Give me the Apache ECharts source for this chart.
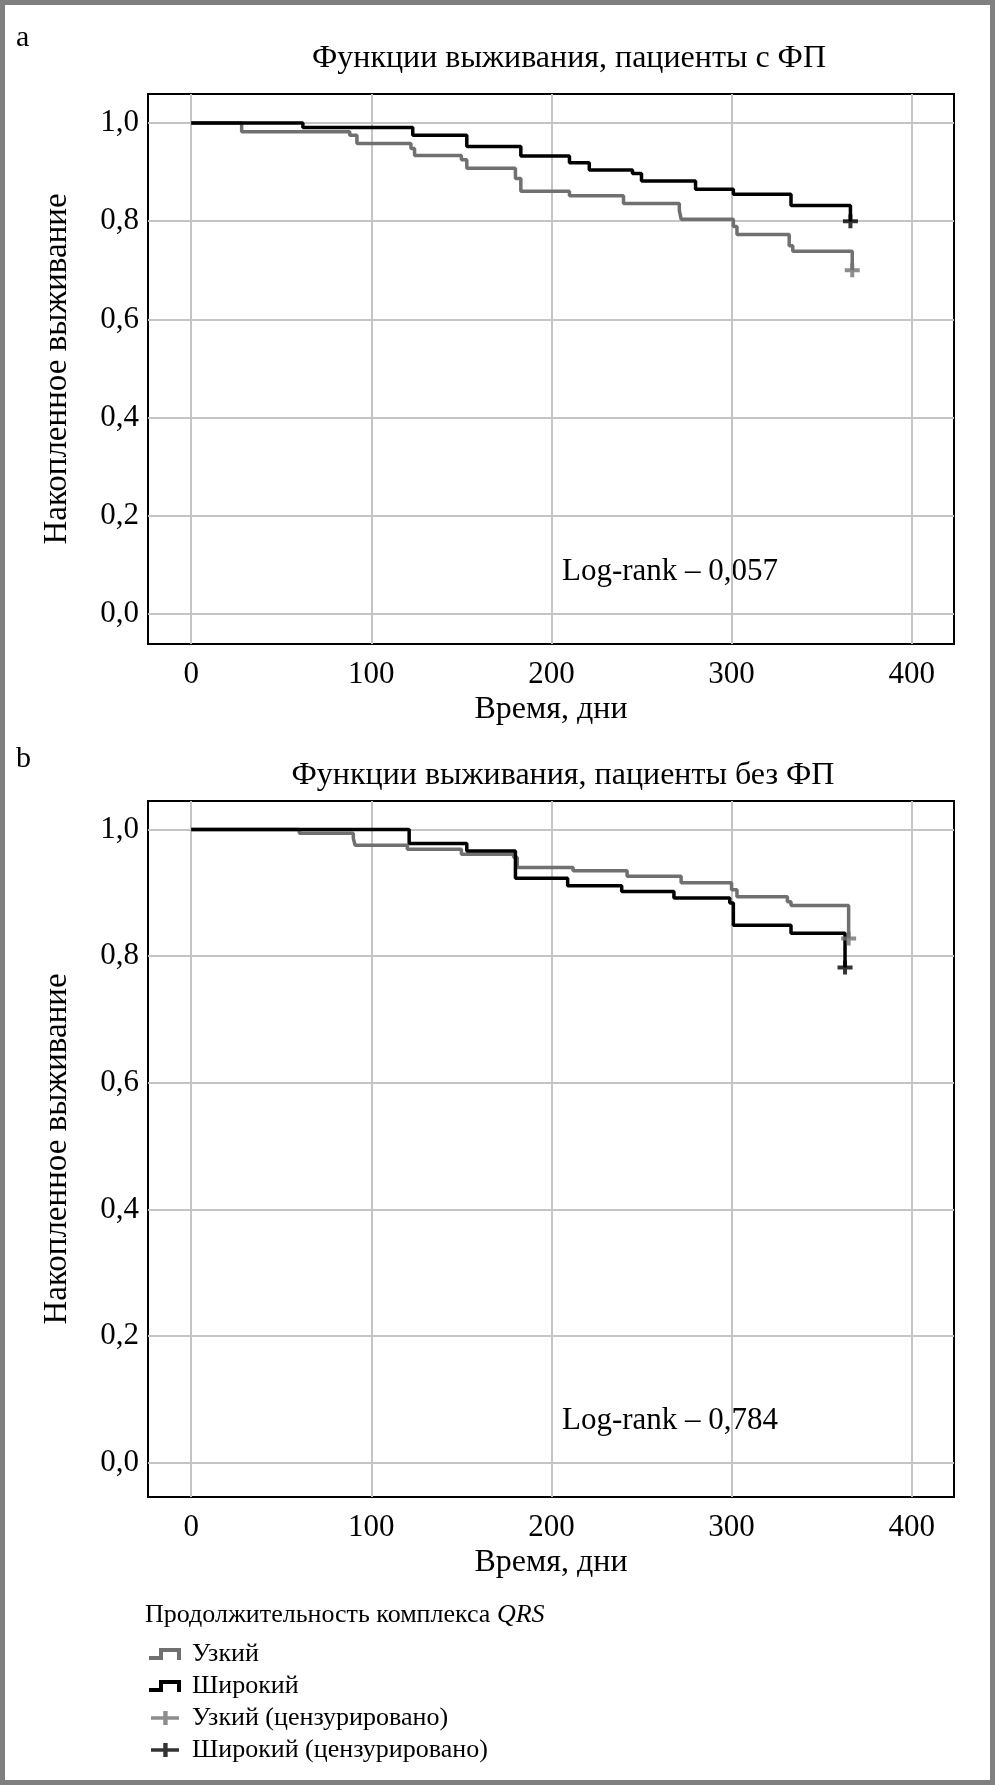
<!DOCTYPE html>
<html>
<head>
<meta charset="utf-8">
<script src="https://cdn.jsdelivr.net/npm/echarts@6/dist/echarts.min.js"></script>
<style>
html,body{margin:0;padding:0;background:#fff;}
#c{width:995px;height:1785px;}
</style>
</head>
<body>
<div id="c"></div>
<script>
// ---- Data ----
var xTicks = [0, 100, 200, 300, 400];
var yTicks = [0, 0.2, 0.4, 0.6, 0.8, 1.0];

// Chart a: patients with AF
var aNarrowT = [0, 28, 88, 92, 122, 124, 150, 153, 180, 183, 210, 240, 271, 272, 301, 303, 332, 334, 367];
var aNarrowS = [1.0, 0.982, 0.975, 0.958, 0.948, 0.934, 0.925, 0.908, 0.887, 0.861, 0.852, 0.836, 0.822, 0.804, 0.789, 0.773, 0.750, 0.739, 0.700];
var aWideT = [0, 62, 123, 153, 183, 210, 221, 245, 250, 280, 301, 333, 366];
var aWideS = [1.0, 0.991, 0.975, 0.952, 0.933, 0.919, 0.904, 0.897, 0.882, 0.865, 0.855, 0.832, 0.800];
var aNarrowCensT = [367], aNarrowCensS = [0.700];
var aWideCensT = [366], aWideCensS = [0.800];

// Chart b: patients without AF
var bNarrowT = [0, 60, 90, 91, 120, 150, 179, 181, 212, 242, 272, 300, 303, 331, 333, 365];
var bNarrowS = [1.0, 0.994, 0.986, 0.975, 0.969, 0.961, 0.956, 0.940, 0.935, 0.926, 0.916, 0.905, 0.894, 0.886, 0.880, 0.828];
var bWideT = [0, 121, 153, 180, 209, 239, 268, 299, 301, 333, 363];
var bWideS = [1.0, 0.978, 0.966, 0.923, 0.911, 0.902, 0.892, 0.884, 0.849, 0.836, 0.782];
var bNarrowCensT = [365], bNarrowCensS = [0.828];
var bWideCensT = [363], bWideCensS = [0.782];

var titles = ['Функции выживания, пациенты с ФП', 'Функции выживания, пациенты без ФП'];
var panelLetters = ['a', 'b'];
var logRank = ['Log-rank – 0,057', 'Log-rank – 0,784'];
var names = ['Узкий', 'Широкий', 'Узкий (цензурировано)', 'Широкий (цензурировано)'];
var xName = 'Время, дни';
var yName = 'Накопленное выживание';
var legendTitle = 'Продолжительность комплекса ';

// ---- Styling ----
var FONT = '"Liberation Serif", "Times New Roman", serif';
var GRAY = '#707070';
var BLACK = '#000000';
var GRID_COLOR = '#c4c4c4';
var plusPath = 'path://M0,5L5.5,5L5.5,0L9.5,0L9.5,5L15,5L15,9L9.5,9L9.5,14L5.5,14L5.5,9L0,9Z';
var legendPlus = 'path://M0,6L14,6L14,0L19,0L19,6L32,6L32,10L19,10L19,16L14,16L14,10L0,10Z';
var legendStep = 'path://M0,8L10,8L10,0L32,0L32,12L28,12L28,4L14,4L14,12L0,12Z';

function zip(t, s) { return t.map(function (v, i) { return [v, s[i]]; }); }
function yFmt(v) { return v.toFixed(1).replace('.', ','); }

function xAxisCfg(gi) {
  return {
    type: 'value', gridIndex: gi, min: -24, max: 423.5,
    name: xName, nameLocation: 'middle', nameGap: 50,
    nameTextStyle: { fontFamily: FONT, fontSize: 32, color: '#000' },
    axisLine: { show: false }, axisTick: { show: false, customValues: xTicks },
    axisLabel: { customValues: xTicks, fontFamily: FONT, fontSize: 31, color: '#000', margin: 15 },
    splitLine: { show: true, lineStyle: { color: GRID_COLOR, width: 2 } }
  };
}
function yAxisCfg(gi, mn, mx) {
  return {
    type: 'value', gridIndex: gi, min: mn, max: mx,
    name: yName, nameLocation: 'middle', nameGap: 74,
    nameTextStyle: { fontFamily: FONT, fontSize: 33, color: '#000' },
    axisLine: { show: false }, axisTick: { show: false, customValues: yTicks },
    axisLabel: { customValues: yTicks, formatter: yFmt, fontFamily: FONT, fontSize: 31, color: '#000', margin: 9 },
    splitLine: { show: true, lineStyle: { color: GRID_COLOR, width: 2 } }
  };
}
function lineSeries(name, gi, t, s, color) {
  return {
    type: 'line', name: name, xAxisIndex: gi, yAxisIndex: gi, step: 'end',
    data: zip(t, s), showSymbol: false, symbol: 'none', color: color,
    lineStyle: { color: color, width: 3.5 }, animation: false, z: color === BLACK ? 4 : 3
  };
}
function censSeries(name, gi, t, s, color) {
  return {
    type: 'scatter', name: name, xAxisIndex: gi, yAxisIndex: gi,
    data: zip(t, s), symbol: plusPath, symbolSize: [15, 14], color: color,
    itemStyle: { color: color }, animation: false, z: 5
  };
}

var option = {
  animation: false,
  backgroundColor: '#fff',
  grid: [
    { left: 148, width: 806, top: 94, height: 550, show: true, borderColor: '#000', borderWidth: 2, backgroundColor: 'transparent' },
    { left: 148, width: 806, top: 801, height: 696, show: true, borderColor: '#000', borderWidth: 2, backgroundColor: 'transparent' }
  ],
  xAxis: [xAxisCfg(0), xAxisCfg(1)],
  yAxis: [yAxisCfg(0, -0.061, 1.059), yAxisCfg(1, -0.054, 1.045)],
  legend: {
    orient: 'vertical', left: 144, top: 1636, itemWidth: 32, itemHeight: 14, itemGap: 6,
    selectedMode: false,
    itemStyle: { borderWidth: 0 },
    textStyle: { fontFamily: FONT, fontSize: 26, color: '#000', lineHeight: 26, padding: [0, 0, 0, 6] },
    data: [
      { name: names[0], icon: legendStep },
      { name: names[1], icon: legendStep },
      { name: names[2], icon: legendPlus },
      { name: names[3], icon: legendPlus }
    ]
  },
  series: [
    lineSeries(names[0], 0, aNarrowT, aNarrowS, GRAY),
    lineSeries(names[1], 0, aWideT, aWideS, BLACK),
    censSeries(names[2], 0, aNarrowCensT, aNarrowCensS, GRAY),
    censSeries(names[3], 0, aWideCensT, aWideCensS, BLACK),
    lineSeries(names[0], 1, bNarrowT, bNarrowS, GRAY),
    lineSeries(names[1], 1, bWideT, bWideS, BLACK),
    censSeries(names[2], 1, bNarrowCensT, bNarrowCensS, GRAY),
    censSeries(names[3], 1, bWideCensT, bWideCensS, BLACK)
  ],
  graphic: [
    { type: 'rect', shape: { x: 2.5, y: 2.5, width: 990, height: 1780 }, style: { fill: 'none', stroke: '#808080', lineWidth: 5 }, silent: true, z: 100 },
    { type: 'text', x: 16, y: 38, style: { text: panelLetters[0], font: '30px ' + FONT, fill: '#000', align: 'left', verticalAlign: 'middle' } },
    { type: 'text', x: 16, y: 759, style: { text: panelLetters[1], font: '30px ' + FONT, fill: '#000', align: 'left', verticalAlign: 'middle' } },
    { type: 'text', x: 569, y: 59, style: { text: titles[0], font: '32px ' + FONT, fill: '#000', align: 'center', verticalAlign: 'middle' } },
    { type: 'text', x: 563, y: 776, style: { text: titles[1], font: '32px ' + FONT, fill: '#000', align: 'center', verticalAlign: 'middle' } },
    { type: 'text', x: 562, y: 572, style: { text: logRank[0], font: '31px ' + FONT, fill: '#000', align: 'left', verticalAlign: 'middle' } },
    { type: 'text', x: 562, y: 1421, style: { text: logRank[1], font: '31px ' + FONT, fill: '#000', align: 'left', verticalAlign: 'middle' } },
    { type: 'text', x: 145, y: 1615, style: {
        text: '{n|' + legendTitle + '}{i|QRS}',
        align: 'left', verticalAlign: 'middle',
        rich: {
          n: { fontFamily: FONT, fontSize: 26, fill: '#000', color: '#000' },
          i: { fontFamily: FONT, fontSize: 26, fontStyle: 'italic', fill: '#000', color: '#000' }
        }
      } }
  ]
};

var chart = echarts.init(document.getElementById('c'), null, { renderer: 'canvas' });
chart.setOption(option);
</script>
</body>
</html>
